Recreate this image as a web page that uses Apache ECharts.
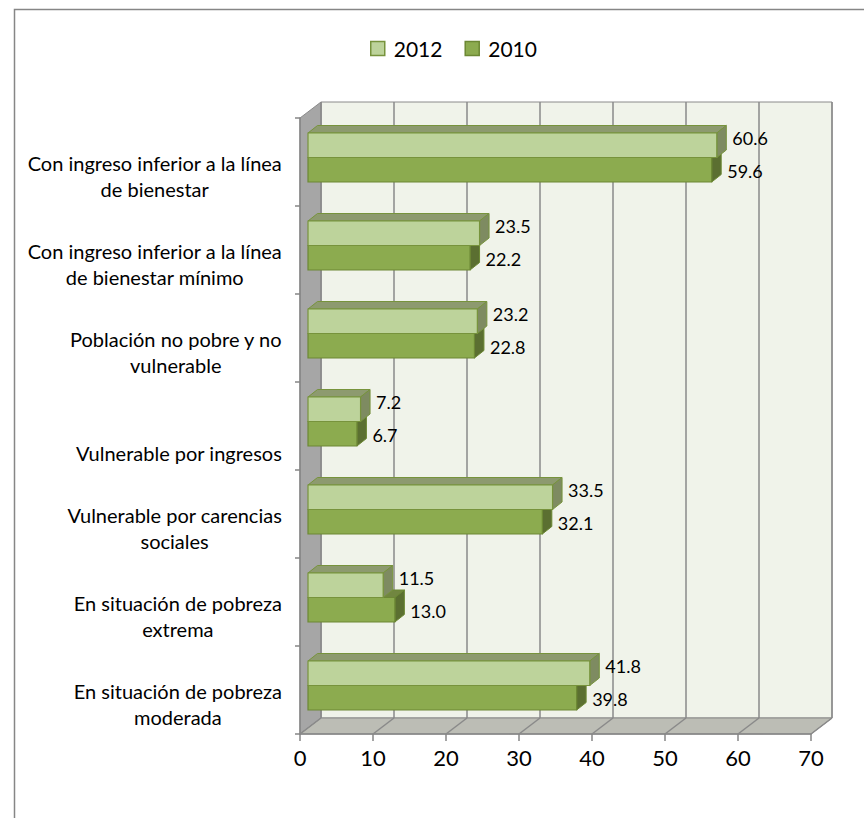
<!DOCTYPE html>
<html>
<head>
<meta charset="utf-8">
<script src="https://cdn.jsdelivr.net/npm/echarts@6/dist/echarts.min.js"></script>
<style>
  html, body { margin: 0; padding: 0; background: #ffffff; }
  #chart { width: 864px; height: 818px; }
</style>
</head>
<body>
<div id="chart"></div>
<script>
// data
const categories = [
  'Con ingreso inferior a la línea\nde bienestar',
  'Con ingreso inferior a la línea\nde bienestar mínimo',
  'Población no pobre y no\nvulnerable',
  'Vulnerable por ingresos',
  'Vulnerable por carencias\nsociales',
  'En situación de pobreza\nextrema',
  'En situación de pobreza\nmoderada'
]
const seriesNames = ['2012', '2010']
// bar lengths as drawn in the picture
const values2012 = [56.0, 23.5, 23.2, 7.2, 33.5, 10.3, 38.6]
const values2010 = [55.3, 22.2, 22.8, 6.7, 32.1, 11.9, 36.8]
// data labels as printed next to the bars
const labels2012 = ['60.6', '23.5', '23.2', '7.2', '33.5', '11.5', '41.8']
const labels2010 = ['59.6', '22.2', '22.8', '6.7', '32.1', '13.0', '39.8']
const xMin = 0
const xMax = 70
const xStep = 10

// layout of the 3d box
const FRONT = { left: 300, top: 118, width: 511, height: 616 }
const DEPTH = { dx: 21, dy: -16 }
const BAR_PLANE = { left: 308, top: 113.5, width: 511, height: 616 }
const BAR_H = 24.5
const BAR_D = { dx: 9.5, dy: -7.5 }

const styles = {
  '2012': { front: '#bdd39b', top: '#8d9a6f', side: '#7e8b61', stroke: '#77933c', labelDy: -7 },
  '2010': { front: '#8cab4f', top: '#718640', side: '#5b6f31', stroke: '#6c8834', labelDy: 1 }
}

const chart = echarts.init(document.getElementById('chart'), null, { renderer: 'svg' })

const makeRender = (name, labels, up) => (params, api) => {
  const st = styles[name]
  const cat = api.value(1)
  const p0 = api.coord([0, cat])
  const p1 = api.coord([api.value(0), cat])
  const x0 = p0[0]
  const x1 = p1[0]
  const y0 = p0[1] + (up ? -BAR_H : 0)
  const y1 = y0 + BAR_H
  const dx = BAR_D.dx
  const dy = BAR_D.dy
  return {
    type: 'group',
    children: [
      {
        type: 'polygon',
        shape: { points: [[x0, y0], [x0 + dx, y0 + dy], [x1 + dx, y0 + dy], [x1, y0]] },
        style: { fill: st.top, stroke: st.stroke, lineWidth: 1 }
      },
      {
        type: 'polygon',
        shape: { points: [[x1, y0], [x1 + dx, y0 + dy], [x1 + dx, y1 + dy], [x1, y1]] },
        style: { fill: st.side, stroke: st.stroke, lineWidth: 1 }
      },
      {
        type: 'rect',
        shape: { x: x0, y: y0, width: x1 - x0, height: BAR_H },
        style: { fill: st.front, stroke: st.stroke, lineWidth: 1.2 }
      },
      {
        type: 'text',
        style: {
          text: labels[params.dataIndex],
          x: x1 + dx + 6,
          y: (y0 + y1) / 2 + st.labelDy,
          fill: '#000000',
          fontSize: 18,
          fontFamily: 'Lato',
          align: 'left',
          verticalAlign: 'middle'
        }
      }
    ]
  }
}

// walls and floor of the box
const wallStroke = '#8a8a8a'
const floorLines = []
for (let v = xMin; v <= xMax; v += xStep) {
  const x = FRONT.left + (v - xMin) / (xMax - xMin) * FRONT.width
  floorLines.push({
    type: 'line',
    z: 1,
    shape: { x1: x, y1: FRONT.top + FRONT.height, x2: x + DEPTH.dx, y2: FRONT.top + FRONT.height + DEPTH.dy },
    style: { stroke: wallStroke, lineWidth: 1.5 }
  })
}
const fl = FRONT.left
const ft = FRONT.top
const fb = FRONT.top + FRONT.height
const fr = FRONT.left + FRONT.width

const option = {
  animation: false,
  backgroundColor: '#ffffff',
  legend: {
    data: [
      { name: '2012', itemStyle: { color: styles['2012'].front, borderColor: styles['2012'].stroke, borderWidth: 1.5 } },
      { name: '2010', itemStyle: { color: styles['2010'].front, borderColor: styles['2010'].stroke, borderWidth: 1.5 } }
    ],
    left: 365,
    top: 33,
    icon: 'rect',
    itemWidth: 14,
    itemHeight: 14,
    itemGap: 22,
    textStyle: { fontSize: 21, fontFamily: 'Lato', color: '#000000', padding: [0, 0, 0, 4] }
  },
  graphic: [
    {
      type: 'rect',
      z: 0,
      shape: { x: 14.5, y: 9.5, width: 900, height: 900 },
      style: { fill: 'none', stroke: '#868686', lineWidth: 1.5 }
    },
    {
      type: 'polygon',
      z: 0,
      shape: { points: [[fl, ft], [fl + DEPTH.dx, ft + DEPTH.dy], [fl + DEPTH.dx, fb + DEPTH.dy], [fl, fb]] },
      style: { fill: '#a6a6a6', stroke: wallStroke, lineWidth: 1 }
    },
    {
      type: 'polygon',
      z: 0,
      shape: { points: [[fl, fb], [fl + DEPTH.dx, fb + DEPTH.dy], [fr + DEPTH.dx, fb + DEPTH.dy], [fr, fb]] },
      style: { fill: '#bcbdb5', stroke: wallStroke, lineWidth: 1 }
    },
    ...floorLines
  ],
  grid: [
    // front plane: axes, ticks, tick labels
    { left: FRONT.left, top: FRONT.top, width: FRONT.width, height: FRONT.height, outerBoundsMode: 'none' },
    // back wall with gridlines
    {
      left: FRONT.left + DEPTH.dx, top: FRONT.top + DEPTH.dy, width: FRONT.width, height: FRONT.height,
      show: true, backgroundColor: '#f0f3ea', borderColor: wallStroke, borderWidth: 1, outerBoundsMode: 'none'
    },
    // plane the bars stand in
    { left: BAR_PLANE.left, top: BAR_PLANE.top, width: BAR_PLANE.width, height: BAR_PLANE.height, outerBoundsMode: 'none' },
    // category labels
    { left: FRONT.left, top: FRONT.top + 40, width: FRONT.width, height: FRONT.height, outerBoundsMode: 'none' }
  ],
  xAxis: [
    {
      gridIndex: 0, type: 'value', min: xMin, max: xMax, interval: xStep,
      axisLine: { show: true, lineStyle: { color: '#868686', width: 1.5 } },
      axisTick: { show: true, length: 7, lineStyle: { color: '#868686', width: 1.5 } },
      axisLabel: { fontSize: 22, fontFamily: 'Lato', color: '#000000', margin: 12 },
      splitLine: { show: false }
    },
    {
      gridIndex: 1, type: 'value', min: xMin, max: xMax, interval: xStep,
      axisLine: { show: false }, axisTick: { show: false }, axisLabel: { show: false },
      splitLine: { show: true, lineStyle: { color: wallStroke, width: 1.5 } }
    },
    { gridIndex: 2, type: 'value', min: xMin, max: xMax, interval: xStep, show: false },
    { gridIndex: 3, type: 'value', min: xMin, max: xMax, interval: xStep, show: false }
  ],
  yAxis: [
    {
      gridIndex: 0, type: 'category', data: categories, inverse: true,
      axisLine: { show: true, lineStyle: { color: '#868686', width: 1.5 } },
      axisTick: { show: true, length: 5, lineStyle: { color: '#868686', width: 1.5 } },
      axisLabel: { show: false },
      splitLine: { show: false }
    },
    { gridIndex: 1, type: 'category', data: categories, inverse: true, show: false },
    { gridIndex: 2, type: 'category', data: categories, inverse: true, show: false },
    {
      gridIndex: 3, type: 'category', data: categories, inverse: true,
      axisLine: { show: false }, axisTick: { show: false }, splitLine: { show: false },
      axisLabel: {
        margin: 18,
        verticalAlign: 'bottom',
        formatter: v => v.split('\n').map(l => '{c|' + l + '}').join('\n'),
        rich: { c: { align: 'center', fontSize: 20, fontFamily: 'Lato', lineHeight: 26, color: '#000000' } }
      }
    }
  ],
  series: [
    {
      name: '2010',
      type: 'custom',
      xAxisIndex: 2,
      yAxisIndex: 2,
      z: 3,
      itemStyle: { color: styles['2010'].front, borderColor: styles['2010'].stroke },
      encode: { x: 0, y: 1 },
      data: values2010.map((v, i) => [v, i]),
      renderItem: makeRender('2010', labels2010, false)
    },
    {
      name: '2012',
      type: 'custom',
      xAxisIndex: 2,
      yAxisIndex: 2,
      z: 4,
      itemStyle: { color: styles['2012'].front, borderColor: styles['2012'].stroke },
      encode: { x: 0, y: 1 },
      data: values2012.map((v, i) => [v, i]),
      renderItem: makeRender('2012', labels2012, true)
    }
  ]
}

chart.setOption(option)
window.addEventListener('resize', () => {
  chart && chart.resize()
})
</script>
</body>
</html>
